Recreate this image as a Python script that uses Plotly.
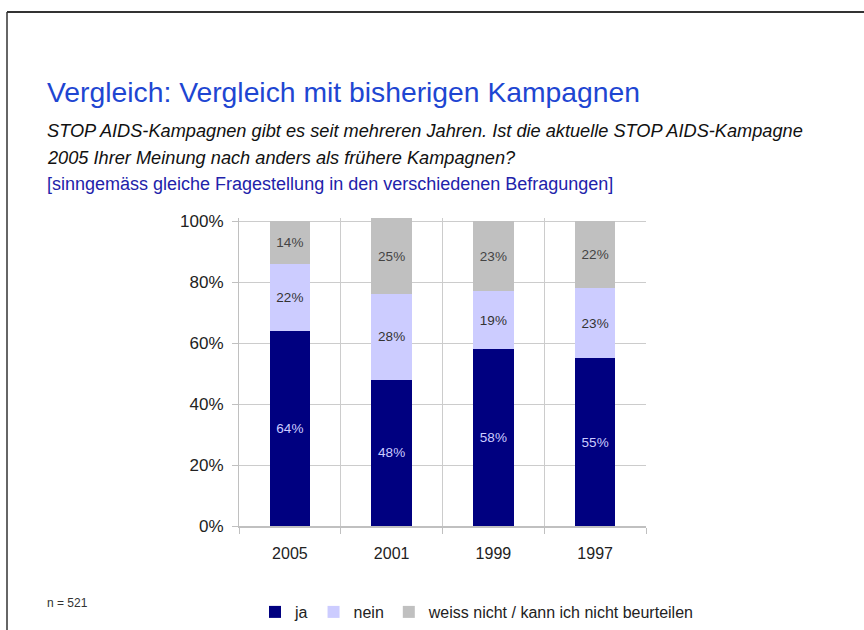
import plotly.graph_objects as go

categories = ["2005", "2001", "1999", "1997"]
ja = [64, 48, 58, 55]
nein = [22, 28, 19, 23]
weiss = [14, 25, 23, 22]
series_names = ["ja", "nein", "weiss nicht / kann ich nicht beurteilen"]
y_tickvals = [0, 20, 40, 60, 80, 100]
y_ticktext = ["0%", "20%", "40%", "60%", "80%", "100%"]

FONT = "Liberation Sans Narrow, Arial Narrow, Liberation Sans, Arial, sans-serif"

# plot area in pixels
L, R, T, B = 239, 646, 218, 526
W, H = 864, 630
def px(x):
    return (x - L) / (R - L)
def py(y):
    return (B - y) / (B - T)

fig = go.Figure()
colors = ["#000080", "#ccccff", "#c0c0c0"]
textcolors = ["#ccccff", "#333333", "#444444"]
for name, vals, c, tc in zip(series_names, [ja, nein, weiss], colors, textcolors):
    fig.add_trace(go.Bar(
        x=categories, y=vals, name=name,
        marker=dict(color=c, line=dict(width=0)),
        width=0.4,
        text=[f"{v}%" for v in vals],
        textposition="inside", insidetextanchor="middle",
        textfont=dict(family=FONT, size=13.5, color=tc),
        cliponaxis=False,
    ))

fig.update_layout(
    barmode="stack",
    width=W, height=H,
    margin=dict(l=L, r=W - R, t=T, b=H - B, autoexpand=False),
    paper_bgcolor="white", plot_bgcolor="white",
    font=dict(family=FONT, color="#222222"),
    showlegend=True,
    legend=dict(orientation="h", x=px(699), y=py(612), xanchor="right", yanchor="middle",
                font=dict(family=FONT, size=16, color="#222222"),
                traceorder="normal", itemclick=False, itemdoubleclick=False),
    xaxis=dict(type="category", tickson="boundaries", showgrid=True, gridcolor="#cccccc",
               gridwidth=1, ticks="outside", ticklen=6, tickcolor="#c0c0c0",
               showline=True, linecolor="#c0c0c0", linewidth=2, mirror=False,
               ticklabelstandoff=12,
               tickfont=dict(family=FONT, size=16, color="#222222")),
    yaxis=dict(range=[0, 101], tickvals=y_tickvals, ticktext=y_ticktext,
               showgrid=True, gridcolor="#cccccc", gridwidth=1,
               ticks="outside", ticklen=6, tickcolor="#c0c0c0",
               showline=True, linecolor="#c0c0c0", linewidth=1,
               zeroline=False, ticklabelstandoff=5,
               tickfont=dict(family=FONT, size=17, color="#222222")),
)

fig.add_annotation(text="Vergleich: Vergleich mit bisherigen Kampagnen",
                   x=px(45), y=py(92), xref="paper", yref="paper", xanchor="left", yanchor="middle",
                   showarrow=False, font=dict(family=FONT, size=28.3, color="#1e46d2"))
fig.add_annotation(text="<i>STOP AIDS-Kampagnen gibt es seit mehreren Jahren. Ist die aktuelle STOP AIDS-Kampagne</i>",
                   x=px(45), y=py(131), xref="paper", yref="paper", xanchor="left", yanchor="middle",
                   showarrow=False, font=dict(family=FONT, size=18.2, color="#111111"))
fig.add_annotation(text="<i>2005 Ihrer Meinung nach anders als frühere Kampagnen?</i>",
                   x=px(45), y=py(158), xref="paper", yref="paper", xanchor="left", yanchor="middle",
                   showarrow=False, font=dict(family=FONT, size=18.2, color="#111111"))
fig.add_annotation(text="[sinngemäss gleiche Fragestellung in den verschiedenen Befragungen]",
                   x=px(45), y=py(184), xref="paper", yref="paper", xanchor="left", yanchor="middle",
                   showarrow=False, font=dict(family=FONT, size=18, color="#2222aa"))
fig.add_annotation(text="n = 521",
                   x=px(45), y=py(603), xref="paper", yref="paper", xanchor="left", yanchor="middle",
                   showarrow=False, font=dict(family=FONT, size=12, color="#333333"))

# frame lines
fig.add_shape(type="line", xref="paper", yref="paper", x0=px(7), x1=px(866), y0=py(12), y1=py(12),
              line=dict(color="#333333", width=2))
fig.add_shape(type="line", xref="paper", yref="paper", x0=px(7), x1=px(7), y0=py(12), y1=py(640),
              line=dict(color="#333333", width=1.5))

fig.write_html("out.html", config={"displayModeBar": False},
               post_script="document.body.style.margin='0';")
